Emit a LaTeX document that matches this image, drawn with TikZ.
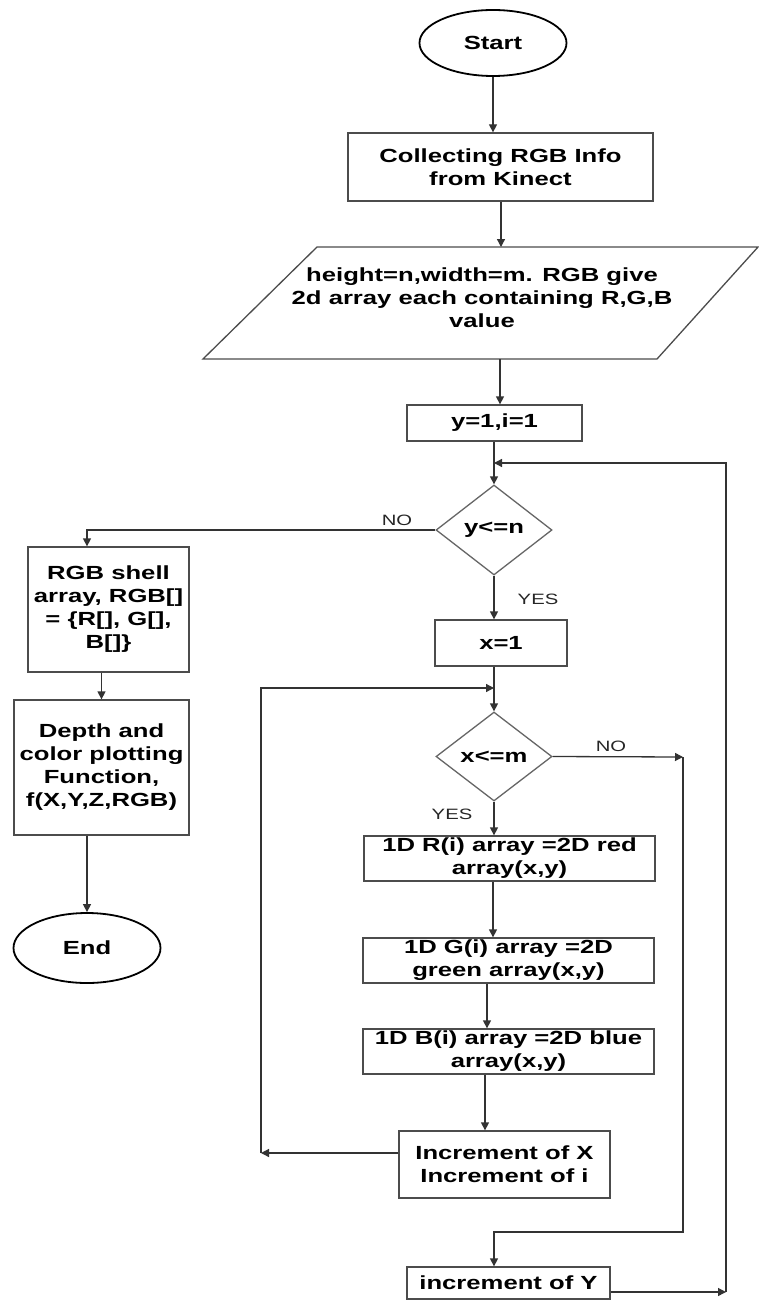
\documentclass[tikz,border=0pt]{standalone}
\usepackage{fontspec}
\setmainfont{Liberation Sans}[FakeStretch=1.35]
\usetikzlibrary{shapes.geometric,arrows.meta}
\begin{document}
\begin{tikzpicture}[x=1pt,y=-1pt,
  base/.style={font=\fontsize{19}{23}\selectfont\bfseries, align=center, inner sep=0pt},
  box/.style={base, draw=black!70, line width=1.3pt, rectangle},
  oval/.style={base, draw=black, line width=1.8pt, ellipse},
  dec/.style={base, draw=black!60, line width=1.3pt, diamond},
  lbl/.style={font=\fontsize{15}{17}\selectfont, inner sep=0pt, text=black!85},
  arr/.style={draw=black!80, line width=1.3pt, -{Triangle[length=8pt,width=8pt]}},
]
\useasboundingbox (0,0) rectangle (759,1300);
\fill[white] (0,0) rectangle (759,1300);

% nodes
\node[oval, minimum width=147pt, minimum height=66pt] (start) at (493,43) {Start};
\node[box, minimum width=305pt, minimum height=68pt] (collect) at (500.5,167) {Collecting RGB Info\\from Kinect};
\coordinate (p1) at (317,247);
\coordinate (p2) at (758,247);
\coordinate (p3) at (657,359);
\coordinate (p4) at (203,359);
\draw[black!70, line width=1.3pt] (p1) -- (p2) -- (p3) -- (p4) -- cycle;
\node[base] (para) at (482,298) {height=n,width=m. RGB give\\2d array each containing R,G,B\\value};
\node[box, minimum width=175pt, minimum height=36pt] (yinit) at (494.5,423) {y=1,i=1};
\node[dec, minimum width=116pt, minimum height=90pt] (d1) at (494,530) {y<=n};
\node[box, minimum width=132pt, minimum height=46pt] (x1) at (501,643) {x=1};
\node[dec, minimum width=116pt, minimum height=89pt] (d2) at (494,756.5) {x<=m};
\node[box, minimum width=291pt, minimum height=45pt] (rbox) at (509.5,858.5) {1D R(i) array =2D red\\array(x,y)};
\node[box, minimum width=291pt, minimum height=45pt] (gbox) at (508.5,960.5) {1D G(i) array =2D\\green array(x,y)};
\node[box, minimum width=291pt, minimum height=45pt] (bbox) at (508.5,1051.5) {1D B(i) array =2D blue\\array(x,y)};
\node[box, minimum width=211pt, minimum height=67pt] (incx) at (504.5,1164.5) {Increment of X\\Increment of i};
\node[box, minimum width=203pt, minimum height=32pt] (incy) at (508.5,1283) {increment of Y};
\node[box, minimum width=161pt, minimum height=125pt] (shell) at (108.5,609.5) {RGB shell\\array, RGB[]\\= \{R[], G[],\\B[]\}};
\node[box, minimum width=175pt, minimum height=135pt] (depth) at (101.5,767.5) {Depth and\\color plotting\\Function,\\f(X,Y,Z,RGB)};
\node[oval, minimum width=147pt, minimum height=70pt] (end) at (87,948) {End};

% labels
\node[lbl] (no1) at (397,520) {NO};
\node[lbl] (yes1) at (538,599) {YES};
\node[lbl] (no2) at (611,746) {NO};
\node[lbl] (yes2) at (452,814) {YES};

% helper coordinates
\coordinate (pout) at (500,359);
\coordinate (yc) at (726,1292);
\coordinate (ytop) at (726,463);
\coordinate (nocorner) at (87,530);
\coordinate (xl) at (261,1153);
\coordinate (xt) at (261,688);
\coordinate (nr) at (683,757);
\coordinate (nb) at (683,1232);

% connectors
\draw[arr] (start.south) -- (start.south |- collect.north);
\draw[arr] ([xshift=0.5pt]collect.south) -- ([xshift=0.5pt]collect.south |- p1);
\draw[arr] (pout) -- (pout |- yinit.north);
\draw[arr] (yinit.south -| d1.north) -- (d1.north);
\draw[arr] (d1.west) -- (nocorner) -- (nocorner |- shell.north);
\draw[arr] (shell.south -| depth.north) -- (depth.north);
\draw[arr] (depth.south -| end.north) -- (end.north);
\draw[arr] (d1.south) -- (d1.south |- x1.north);
\draw[arr] (x1.south -| d2.north) -- (d2.north);
\draw[arr] (d2.south) -- (d2.south |- rbox.north);
\draw[arr] ([xshift=-16.5pt]rbox.south) -- ([xshift=-16.5pt]rbox.south |- gbox.north);
\draw[arr] ([xshift=-21.5pt]gbox.south) -- ([xshift=-21.5pt]gbox.south |- bbox.north);
\draw[arr] ([xshift=-23.5pt]bbox.south) -- ([xshift=-23.5pt]bbox.south |- incx.north);
\draw[arr] (incx.west |- xl) -- (xl);
\draw[arr] (xl) -- (xt) -- (xt -| d2.north);
\draw[arr] (d2.east) -- (nr);
\draw[arr] (nr) -- (nb) -- (nb -| d2.south) -- (d2.south |- incy.north);
\draw[arr] (incy.east |- yc) -- (yc);
\draw[arr] (yc) -- (ytop) -- (ytop -| d1.north);
\end{tikzpicture}
\end{document}
